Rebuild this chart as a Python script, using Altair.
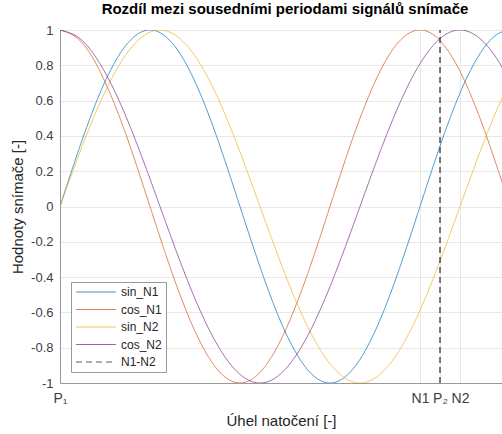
import altair as alt
import pandas as pd

# Sampled readings (angle in plot units, 0 = P1)
angle = [0, 20, 40, 60, 80, 100, 120, 140, 160, 180, 200, 220, 240, 260, 280,
         300, 320, 340, 360, 380, 400, 420, 440, 460]
sin_n1 = [0, 0.342, 0.643, 0.866, 0.985, 0.985, 0.866, 0.643, 0.342, 0, -0.342,
          -0.643, -0.866, -0.985, -0.985, -0.866, -0.643, -0.342, 0, 0.342, 0.643,
          0.866, 0.985, 0.985]
cos_n1 = [1, 0.940, 0.766, 0.5, 0.174, -0.174, -0.5, -0.766, -0.940, -1, -0.940,
          -0.766, -0.5, -0.174, 0.174, 0.5, 0.766, 0.940, 1, 0.940, 0.766, 0.5,
          0.174, -0.174]
sin_n2 = [0, 0.309, 0.588, 0.809, 0.951, 1, 0.951, 0.809, 0.588, 0.309, 0, -0.309,
          -0.588, -0.809, -0.951, -1, -0.951, -0.809, -0.588, -0.309, 0, 0.309,
          0.588, 0.809]
cos_n2 = [1, 0.951, 0.809, 0.588, 0.309, 0, -0.309, -0.588, -0.809, -0.951, -1,
          -0.951, -0.809, -0.588, -0.309, 0, 0.309, 0.588, 0.809, 0.951, 1, 0.951,
          0.809, 0.588]

series_names = ["sin_N1", "cos_N1", "sin_N2", "cos_N2", "N1-N2"]
series_colors = ["#0072BD", "#D95319", "#EDB120", "#7E2F8E", "#262626"]
series_dash = [[1, 0], [1, 0], [1, 0], [1, 0], [6, 4]]

tick_values = [0, 360, 380, 400]
tick_labels = ["P₁", "N1", "P₂", "N2"]
p2_pos = 380
y_ticks = [-1, -0.8, -0.6, -0.4, -0.2, 0, 0.2, 0.4, 0.6, 0.8, 1]
x_domain = [0, 442]
y_domain = [-1, 1]

FONT = "Liberation Sans"

rows = []
for name, vals in zip(series_names[:4], [sin_n1, cos_n1, sin_n2, cos_n2]):
    for a, v in zip(angle, vals):
        rows.append({"x": a, "y": v, "series": name})
df = pd.DataFrame(rows)
rule_df = pd.DataFrame({"x": [p2_pos], "y": [y_domain[0]], "y2": [y_domain[1]],
                        "series": ["N1-N2"]})

label_expr = " : ".join(
    f"datum.value == {v} ? '{l}'" for v, l in zip(tick_values, tick_labels)
) + " : ''"

legend_props = dict(
    title=None, orient="none", legendX=11, legendY=252,
    symbolType="stroke", symbolSize=1600, clipHeight=12, rowPadding=5.5,
    padding=4, strokeColor="#999999", fillColor="white",
    labelFontSize=12, labelColor="#262626", labelFont=FONT, labelOffset=4,
    symbolStrokeWidth=1.2, cornerRadius=0,
)

color_enc = alt.Color("series:N",
                      scale=alt.Scale(domain=series_names, range=series_colors),
                      legend=alt.Legend(**legend_props))
dash_enc = alt.StrokeDash("series:N",
                          scale=alt.Scale(domain=series_names, range=series_dash),
                          legend=alt.Legend(**legend_props))

x_enc = alt.X("x:Q", scale=alt.Scale(domain=x_domain, nice=False, zero=False),
              axis=alt.Axis(values=tick_values, labelExpr=label_expr,
                            tickCount=20,
                            title="Úhel natočení [-]", grid=True, ticks=False,
                            labelFontSize=14, labelColor="#404040", labelFont=FONT,
                            labelPadding=8, labelOverlap=False,
                            titleFont=FONT, titleFontSize=15,
                            titleFontWeight="normal", titleColor="#262626",
                            titlePadding=8, domainColor="#999999",
                            gridColor="#e8e8e8", labelFlush=False))
y_enc = alt.Y("y:Q", scale=alt.Scale(domain=y_domain, nice=False),
              axis=alt.Axis(values=y_ticks, tickCount=20,
                            labelExpr="replace(format(datum.value, '.1~f'), '−', '-')",
                            title="Hodnoty snímače [-]", grid=True, ticks=False,
                            labelFontSize=13, labelColor="#404040", labelFont=FONT,
                            labelPadding=7, labelOverlap=False,
                            titleFont=FONT, titleFontSize=15,
                            titleFontWeight="normal", titleColor="#262626",
                            titlePadding=5, domainColor="#999999",
                            gridColor="#e8e8e8", labelFlush=False))

lines = alt.Chart(df).mark_line(interpolate="natural", clip=True, strokeWidth=1,
                                opacity=0.75).encode(
    x=x_enc, y=y_enc, color=color_enc, strokeDash=dash_enc)

rule = alt.Chart(rule_df).mark_rule(strokeWidth=1.2, clip=True).encode(
    x="x:Q", y="y:Q", y2="y2:Q", color=color_enc, strokeDash=dash_enc)

chart = alt.layer(lines, rule).properties(
    width=442, height=353,
    autosize=alt.AutoSizeParams(type="none"),
    padding={"left": 60, "top": 30, "right": 0, "bottom": 51},
    title=alt.TitleParams("Rozdíl mezi sousedními periodami signálů snímače",
                          font=FONT, fontSize=15, fontWeight="bold",
                          color="black", anchor="middle", offset=7, dx=4),
).configure_view(stroke="#999999").configure(background="white")

chart.save("out.html", embed_options={"renderer": "svg", "actions": False})
